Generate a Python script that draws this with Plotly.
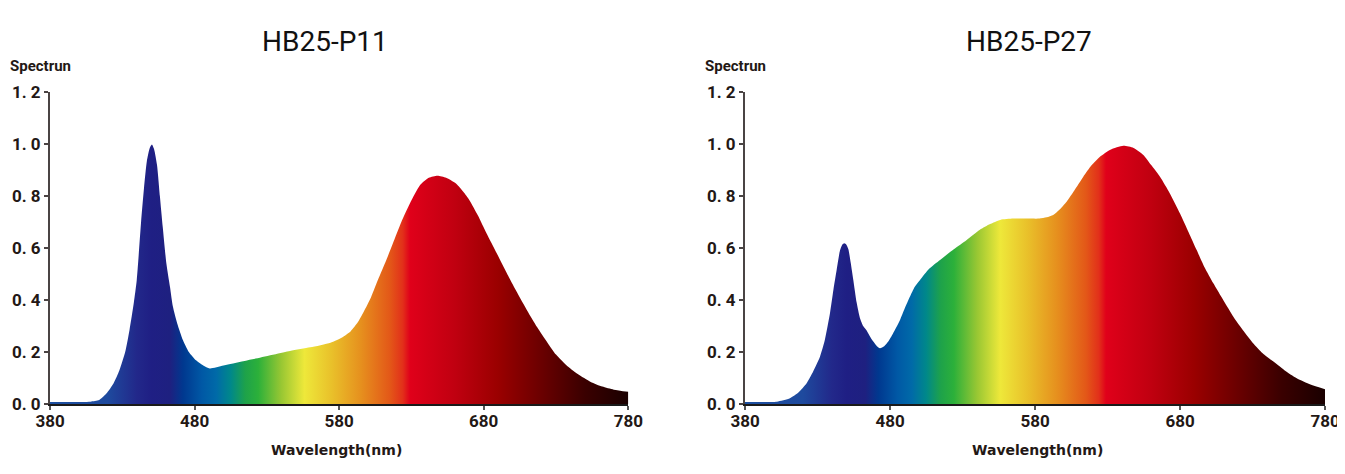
import plotly.graph_objects as go

# spectrum data (wavelength nm, relative intensity)
wl_p11 = [380, 395, 408, 414, 419, 424, 428, 432, 435, 438, 440, 443, 445, 447, 449, 450.5,
          452, 454, 456, 458, 460.5, 463, 465, 468, 472, 476, 481, 486, 490.5, 500, 520, 546,
          560, 574, 582, 588, 593, 597, 602, 606, 612, 617, 623, 629, 636, 642, 648, 654, 661,
          666, 670, 676, 682, 689, 696, 703, 710, 717, 724, 730, 737, 745, 754, 762, 770, 780]
sp_p11 = [0.008, 0.008, 0.009, 0.015, 0.04, 0.08, 0.13, 0.2, 0.285, 0.39, 0.477, 0.70, 0.83,
          0.935, 0.985, 0.998, 0.98, 0.92, 0.80, 0.68, 0.54, 0.45, 0.375, 0.31, 0.245, 0.2,
          0.168, 0.148, 0.137, 0.148, 0.172, 0.204, 0.218, 0.236, 0.256, 0.28, 0.315, 0.355,
          0.41, 0.466, 0.545, 0.615, 0.70, 0.772, 0.842, 0.87, 0.878, 0.87, 0.847, 0.815, 0.785,
          0.725, 0.656, 0.58, 0.503, 0.43, 0.36, 0.295, 0.237, 0.19, 0.15, 0.115, 0.085, 0.067,
          0.055, 0.047]

wl_p27 = [380, 395, 402, 411, 417, 422.5, 427, 431.7, 435, 438.6, 441, 443.2, 445.5, 447, 448.5,
          450, 451.3, 453, 454.7, 457, 459.3, 461.5, 463.9, 466, 468.5, 471, 473.1, 476, 478.8,
          482, 486.9, 490, 493.8, 497, 500.7, 507, 514.5, 524, 532.9, 542, 549, 556, 565, 575,
          583, 588, 592.6, 597, 601.8, 607, 613.3, 619, 624.8, 632, 640.9, 648, 654.7, 660,
          666.2, 673, 680, 686, 691.5, 697, 703, 710, 716.8, 724, 730.6, 737, 744.4, 752,
          760.5, 770, 780]
sp_p27 = [0.008, 0.008, 0.009, 0.022, 0.045, 0.08, 0.125, 0.182, 0.245, 0.349, 0.44, 0.515,
          0.59, 0.612, 0.618, 0.612, 0.595, 0.54, 0.477, 0.39, 0.33, 0.30, 0.283, 0.262, 0.24,
          0.222, 0.214, 0.222, 0.24, 0.27, 0.323, 0.365, 0.413, 0.45, 0.477, 0.52, 0.554, 0.595,
          0.631, 0.67, 0.692, 0.708, 0.713, 0.713, 0.713, 0.718, 0.727, 0.748, 0.778, 0.82,
          0.874, 0.918, 0.951, 0.978, 0.993, 0.985, 0.958, 0.92, 0.874, 0.81, 0.733, 0.66,
          0.592, 0.525, 0.464, 0.398, 0.336, 0.28, 0.233, 0.195, 0.163, 0.13, 0.099, 0.075,
          0.057]

# rainbow gradient stops (wavelength -> colour)
grad_nm = [380, 420, 440, 450, 463, 472, 485, 495, 505, 515, 524, 540, 556, 575, 595,
           615, 624, 629, 660, 690, 720, 750, 780]
grad_col = ['#1e50a0', '#1e4a9e', '#22288a', '#1f1f84', '#1e2080', '#00388f', '#0058a5',
            '#006aa8', '#00888a', '#1ea24a', '#2cb03a', '#98c733', '#eee83a', '#e9c02a',
            '#e6901e', '#e35818', '#e2301a', '#e0001a', '#c00010', '#9a0000', '#6a0000',
            '#3a0000', '#1a0000']

titles = ['HB25-P11', 'HB25-P27']
x_ticks = [380, 480, 580, 680, 780]
y_ticks = [0, 0.2, 0.4, 0.6, 0.8, 1.0, 1.2]
y_ticktext = ['0. 0', '0. 2', '0. 4', '0. 6', '0. 8', '1. 0', '1. 2']

scale = [[(nm - 380) / 400, c] for nm, c in zip(grad_nm, grad_col)]

TXT = '#231815'
TICK_FONT = dict(family='Roboto, sans-serif', size=17, weight='bold', color=TXT)

fig = go.Figure()
for i, (wl, sp) in enumerate([(wl_p11, sp_p11), (wl_p27, sp_p27)]):
    ax = '' if i == 0 else '2'
    fig.add_trace(go.Scatter(
        x=wl, y=sp, mode='none', fill='tozeroy',
        line=dict(shape='spline', smoothing=0.6),
        fillgradient=dict(type='horizontal', colorscale=scale, start=380, stop=780),
        xaxis='x' + ax, yaxis='y' + ax, showlegend=False, hoverinfo='x+y'))

axis_common = dict(showgrid=False, zeroline=False, showline=True, linewidth=2,
                   ticks='outside', ticklen=4, tickwidth=1.5, tickfont=TICK_FONT,
                   automargin=False)

# page body adds an 8px offset, so the figure is 8px smaller than the window
W, H = 1337, 466
L, R, T, B = 42, 20, 84, 70
PW, PH = W - L - R, H - T - B
dom_left = [0, (620.3 - L) / PW]
dom_right = [(737 - L) / PW, 1]

fig.update_layout(
    width=W, height=H,
    margin=dict(l=L, r=R, t=T, b=B),
    plot_bgcolor='white', paper_bgcolor='white',
    xaxis=dict(domain=dom_left, range=[380, 780], tickvals=x_ticks, linecolor='#1a1a1a',
               tickcolor='#555', ticklabelstandoff=-3, **axis_common),
    yaxis=dict(range=[0, 1.2], tickvals=y_ticks, ticktext=y_ticktext, linecolor='#4a4444',
               tickcolor='#4a4444', **axis_common),
    xaxis2=dict(domain=dom_right, range=[380, 780], tickvals=x_ticks, linecolor='#1a1a1a',
                tickcolor='#555', anchor='y2', ticklabelstandoff=-3, **axis_common),
    yaxis2=dict(range=[0, 1.2], tickvals=y_ticks, ticktext=y_ticktext, linecolor='#4a4444',
                tickcolor='#4a4444', anchor='x2', **axis_common),
)


def px(x):
    return (x - 8 - L) / PW


def py(y):
    return (H - B - (y - 8)) / PH


title_x = [325, 1029]
label_x = [7, 703]
xlabel_x = [336, 1037]
for i in range(2):
    # chart title
    fig.add_annotation(text=titles[i], xref='paper', yref='paper',
                       x=px(title_x[i]), y=py(42), xanchor='center', yanchor='middle',
                       showarrow=False,
                       font=dict(family='Roboto, sans-serif', size=28, color='#111111'))
    # y axis label
    fig.add_annotation(text='Spectrun', xref='paper', yref='paper',
                       x=px(max(label_x[i], 8)), y=py(66), xanchor='left', yanchor='middle',
                       showarrow=False,
                       font=dict(family='Roboto, sans-serif', size=15, weight='bold', color=TXT))
    # x axis label
    fig.add_annotation(text='Wavelength(nm)', xref='paper', yref='paper',
                       x=px(xlabel_x[i]), y=py(450), xanchor='center', yanchor='middle',
                       showarrow=False,
                       font=dict(family='DejaVu Sans, sans-serif', size=14, weight='bold',
                                 color=TXT))

fig.write_html('out.html')
